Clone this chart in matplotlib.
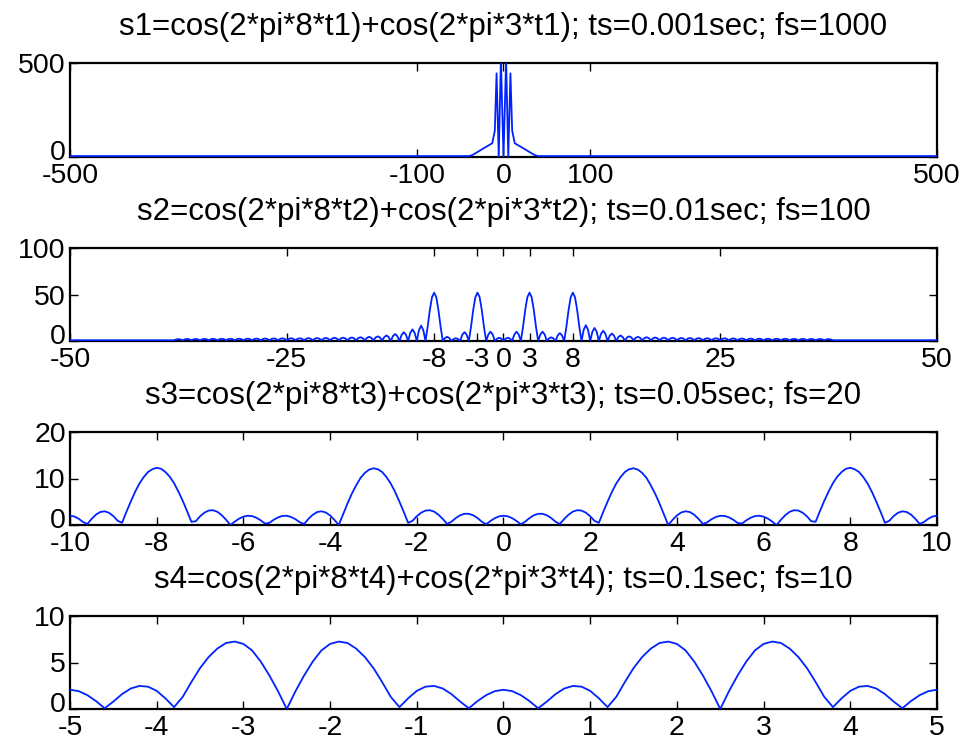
import numpy as np
import matplotlib
matplotlib.use('Agg')
import matplotlib.pyplot as plt
from matplotlib.transforms import ScaledTranslation

plt.rcParams['font.family'] = ['Liberation Sans', 'DejaVu Sans']
plt.rcParams['axes.unicode_minus'] = False

# titres des sous-graphes
titles = ['s1=cos(2*pi*8*t1)+cos(2*pi*3*t1); ts=0.001sec; fs=1000',
          's2=cos(2*pi*8*t2)+cos(2*pi*3*t2); ts=0.01sec; fs=100',
          's3=cos(2*pi*8*t3)+cos(2*pi*3*t3); ts=0.05sec; fs=20',
          's4=cos(2*pi*8*t4)+cos(2*pi*3*t4); ts=0.1sec; fs=10']

# --- s1, fs=1000 (pics serres autour de 0)
f1 = [-500, -40, -36, -23, -13, -10, -8, -5.5, -3, 0, 3, 5.5, 8, 10, 13, 23, 36, 40, 500]
a1 = [5, 5, 10, 46, 73, 140, 445, 0, 520, 0, 520, 0, 445, 140, 73, 46, 10, 5, 5]

# --- s2, fs=100 : un rang par unite de frequence (pas 0.25), de -40 a 39.75
a2_rows = [
    [0.8, 0.8, 0.8, 0.8], [0.8, 0.8, 0.8, 0.8],
    [0.8, 1.65, 2.0, 1.65], [0.8, 1.8, 2.2, 1.8], [0.8, 1.8, 2.2, 1.8],
    [0.8, 1.85, 2.3, 1.85], [0.8, 1.85, 2.3, 1.85], [0.8, 1.95, 2.4, 1.95],
    [0.8, 1.95, 2.4, 1.95], [0.8, 2.0, 2.5, 2.0], [0.8, 2.0, 2.5, 2.0],
    [0.8, 2.1, 2.6, 2.1], [0.8, 2.15, 2.7, 2.15], [0.8, 2.2, 2.8, 2.2],
    [0.8, 2.3, 2.9, 2.3], [0.8, 2.35, 3.0, 2.35], [0.8, 2.35, 3.0, 2.35],
    [0.8, 2.4, 3.1, 2.4], [0.8, 2.5, 3.2, 2.5], [0.8, 2.55, 3.3, 2.55],
    [0.8, 2.7, 3.5, 2.7], [0.8, 2.8, 3.6, 2.8], [0.8, 2.9, 3.8, 2.9],
    [0.8, 3.1, 4.1, 3.1], [0.8, 3.4, 4.5, 3.4], [0.8, 3.8, 5.0, 3.8],
    [0.5, 4.2, 6.0, 4.2], [0, 5.3, 7.5, 5.3], [0, 6.7, 9.5, 6.7],
    [0, 8.8, 12.5, 8.8], [0, 11.7, 16.5, 11.7],
    [0, 15, 33, 47], [52, 47, 33, 15],          # pic -8
    [0, 3.2, 4.5, 3.2], [0, 2.1, 3.0, 2.1], [0, 6.7, 9.5, 6.7],
    [0, 15, 33, 47], [52, 47, 33, 15],          # pic -3
    [0, 7.0, 10, 7.0], [0, 2.5, 3.5, 2.5], [0, 2.5, 3.5, 2.5], [0, 7.0, 10, 7.0],
    [0, 15, 33, 47], [52, 47, 33, 15],          # pic 3
    [0, 7.0, 10, 7.0], [0, 2.8, 4.0, 2.8], [0, 6.0, 8.5, 6.0],
    [0, 15, 33, 47], [52, 47, 33, 15],          # pic 8
    [0, 12, 17, 12], [0, 9.9, 14, 9.9], [0, 7.8, 11, 7.8], [0, 5.7, 8, 5.7],
    [0, 4.2, 6, 4.2], [0.5, 3.8, 5.0, 3.8], [0.8, 3.4, 4.5, 3.4],
    [0.8, 3.1, 4.1, 3.1], [0.8, 2.9, 3.8, 2.9], [0.8, 2.8, 3.6, 2.8],
    [0.8, 2.7, 3.5, 2.7], [0.8, 2.55, 3.3, 2.55], [0.8, 2.5, 3.2, 2.5],
    [0.8, 2.4, 3.1, 2.4], [0.8, 2.35, 3.0, 2.35], [0.8, 2.35, 3.0, 2.35],
    [0.8, 2.3, 2.9, 2.3], [0.8, 2.2, 2.8, 2.2], [0.8, 2.15, 2.7, 2.15],
    [0.8, 2.1, 2.6, 2.1], [0.8, 2.0, 2.5, 2.0], [0.8, 2.0, 2.5, 2.0],
    [0.8, 1.95, 2.4, 1.95], [0.8, 1.95, 2.4, 1.95], [0.8, 1.85, 2.3, 1.85],
    [0.8, 1.85, 2.3, 1.85], [0.8, 1.8, 2.2, 1.8], [0.8, 1.8, 2.2, 1.8],
    [0.8, 1.65, 2.0, 1.65], [0.8, 0.8, 0.8, 0.8], [0.8, 0.8, 0.8, 0.8],
]
f2 = np.concatenate(([-50], np.arange(-40, 40.25, 0.25), [50]))
a2 = [0.8] + [v for row in a2_rows for v in row] + [0.8, 0.8]

# --- s3, fs=20 : pas 0.1 de -10 a 10
a3 = [2.0,
      1.83, 1.35, 0.65, 0.23, 1.33, 2.24, 2.8, 2.94, 2.63, 1.92,
      0.91, 0.47, 2.8, 5.0, 7.1, 8.9, 10.3, 11.4, 12.0, 12.3,
      12.1, 11.4, 10.4, 9.0, 7.2, 5.2, 3.0, 0.7, 0.8, 1.86,
      2.65, 3.11, 3.18, 2.83, 2.11, 1.13, 0.0, 0.73, 1.36, 1.8,
      2.0, 1.91, 1.56, 1.0, 0.3, 0.45, 1.13, 1.65, 1.95, 1.98,
      1.73, 1.25, 0.59, 0.22, 1.31, 2.2, 2.78, 2.95, 2.7, 2.05,
      1.1, 0.0, 2.3, 4.6, 6.7, 8.5, 10.1, 11.2, 11.9, 12.2,
      12.0, 11.4, 10.3, 8.9, 7.1, 5.0, 2.8, 0.47, 0.89, 1.88,
      2.65, 3.1, 3.18, 2.88, 2.2, 1.3, 0.22, 0.71, 1.5, 2.09,
      2.41, 2.41, 2.09, 1.5, 0.71, 0.15, 0.87, 1.47, 1.86,
      2.0, 1.86, 1.47, 0.87, 0.15, 0.71, 1.5, 2.09, 2.41, 2.41,
      2.09, 1.5, 0.71, 0.22, 1.3, 2.2, 2.88, 3.18, 3.1, 2.65,
      1.88, 0.89, 0.47, 2.8, 5.0, 7.1, 8.9, 10.3, 11.4, 12.0,
      12.2, 11.9, 11.2, 10.1, 8.5, 6.7, 4.6, 2.3, 0.0, 1.1,
      2.05, 2.7, 2.95, 2.78, 2.2, 1.31, 0.22, 0.59, 1.25, 1.73,
      1.98, 1.95, 1.65, 1.13, 0.45, 0.3, 1.0, 1.56, 1.91, 2.0,
      1.8, 1.36, 0.73, 0.0, 1.13, 2.11, 2.83, 3.18, 3.11, 2.65,
      1.86, 0.8, 0.7, 3.0, 5.2, 7.2, 9.0, 10.4, 11.4, 12.1,
      12.3, 12.0, 11.4, 10.3, 8.9, 7.1, 5.0, 2.8, 0.47, 0.91,
      1.92, 2.63, 2.94, 2.8, 2.24, 1.33, 0.23, 0.65, 1.35, 1.83,
      2.0]
f3 = np.linspace(-10, 10, len(a3))

# --- s4, fs=10 : pas 0.1 de -5 a 5
a4 = [2.07,
      1.92, 1.49, 0.85, 0.08, 0.8, 1.6, 2.2, 2.48, 2.4, 1.95,
      1.15, 0.2, 1.3, 2.9, 4.4, 5.6, 6.5, 7.1, 7.25, 7.0,
      6.3, 5.1, 3.6, 1.9, 0.0, 1.9, 3.6, 5.1, 6.3, 7.0,
      7.25, 7.1, 6.5, 5.6, 4.4, 2.9, 1.3, 0.2, 1.15, 1.95,
      2.4, 2.48, 2.2, 1.6, 0.8, 0.08, 0.85, 1.49, 1.92,
      2.07, 1.92, 1.49, 0.85, 0.08, 0.8, 1.6, 2.2, 2.48, 2.4,
      1.95, 1.15, 0.2, 1.3, 2.9, 4.4, 5.6, 6.5, 7.1, 7.25,
      7.0, 6.3, 5.1, 3.6, 1.9, 0.0, 1.9, 3.6, 5.1, 6.3,
      7.0, 7.25, 7.1, 6.5, 5.6, 4.4, 2.9, 1.3, 0.2, 1.15,
      1.95, 2.4, 2.48, 2.2, 1.6, 0.8, 0.08, 0.85, 1.49, 1.92,
      2.07]
f4 = np.linspace(-5, 5, len(a4))

xticks = [[-500, -100, 0, 100, 500],
          [-50, -25, -8, -3, 0, 3, 8, 25, 50],
          list(range(-10, 11, 2)),
          list(range(-5, 6))]
yticks = [[0, 500], [0, 50, 100], [0, 10, 20], [0, 5, 10]]

series = [(f1, a1), (f2, a2), (f3, a3), (f4, a4)]

fig = plt.figure(figsize=(9.7, 7.42), dpi=100)
W, H = 970.0, 742.0
tops = [63, 248, 432, 616]
bots = [157, 341, 525, 709]
left, right = 70, 937

for i in range(4):
    ax = fig.add_axes([left / W, 1 - bots[i] / H, (right - left) / W, (bots[i] - tops[i]) / H])
    f, a = series[i]
    ax.plot(f, a, color='#0022ff', linewidth=1.3, zorder=3)
    ax.set_xlim(xticks[i][0], xticks[i][-1])
    ax.set_ylim(yticks[i][0], yticks[i][-1])
    ax.set_xticks(xticks[i])
    ax.set_yticks(yticks[i])
    ax.tick_params(direction='in', top=True, right=True, length=6, width=1,
                   labelsize=20.5, pad=3)
    ax.tick_params(axis='x', pad=4)
    for s in ax.spines.values():
        s.set_linewidth(1.6)
    ax.set_title(titles[i], fontsize=22.5, pad=20)
    # le "0" de l'axe y est un peu remonte, comme dans l'original
    lab0 = ax.get_yticklabels()[0]
    lab0.set_transform(lab0.get_transform() + ScaledTranslation(0, 7 / 100, fig.dpi_scale_trans))

fig.savefig('out.png', dpi=100)
